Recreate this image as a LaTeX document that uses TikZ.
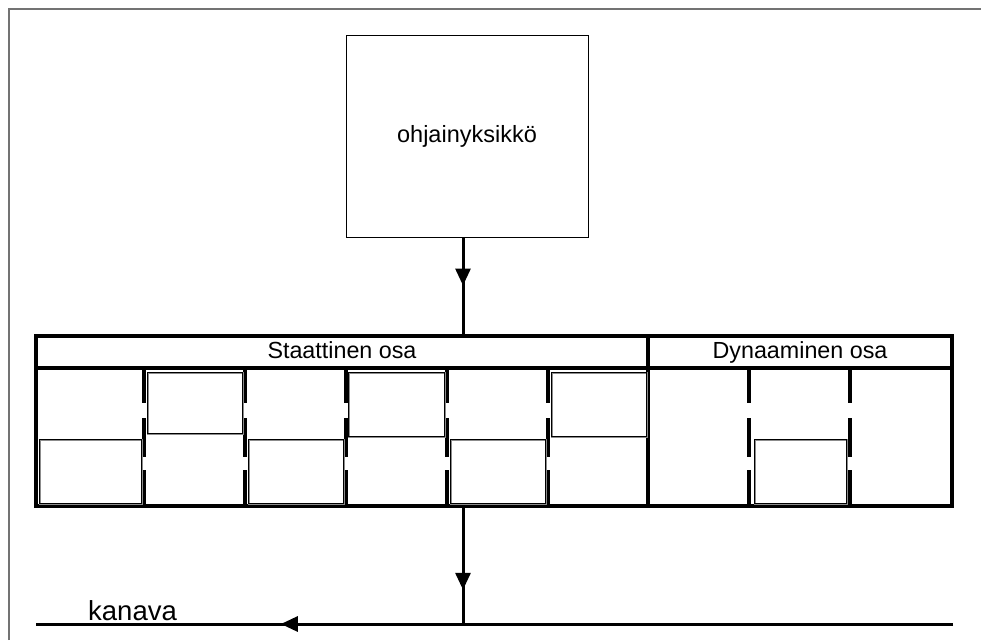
\documentclass[tikz,border=0pt]{standalone}
\usepackage{fontspec}
\setmainfont{Liberation Sans}
\usetikzlibrary{arrows.meta,decorations.markings}
\begin{document}
\begin{tikzpicture}[x=1pt,y=-1pt,
  framel/.style={draw=black!55, line width=1.6pt},
  ctrlbox/.style={draw, line width=1pt, minimum width=242pt, minimum height=202pt, anchor=north west, inner sep=0pt, outer sep=0pt, font=\fontsize{23.5}{28}\selectfont},
  busbox/.style={draw, line width=3.3pt, anchor=north west, inner sep=0pt, outer sep=0pt},
  headtext/.style={font=\fontsize{23.3}{27}\selectfont, text height=17pt, text depth=5pt},
  divline/.style={line width=3.3pt},
  slotbox/.style={draw=black, line width=0.9pt},
  slotshadow/.style={draw=black!45, line width=1.3pt},
  conn/.style={line width=3pt},
  midarrow/.style={postaction={decorate, decoration={markings, mark=at position #1 with {\arrow{Triangle[length=17pt,width=15pt]}}}}}
]
\useasboundingbox (0,0) rectangle (981,640);
% outer frame (top and left edges only)
\draw[framel] (9,640) -- (9,9) -- (981,9);

% control unit
\node[ctrlbox] (ctrl) at (346,35) {ohjainyksikkö};

% bus
\node[busbox, minimum width=916pt, minimum height=170pt] (bus) at (36,336) {};
\node[busbox, minimum width=612pt, minimum height=32pt, headtext] (stat) at (36,336) {Staattinen osa};
\node[busbox, minimum width=304pt, minimum height=32pt, headtext] (dyn) at (648,336) {Dynaaminen osa};
\draw[divline] (stat.south east) -- (stat.south east |- bus.south);

% broken slot dividers
\foreach \x in {144,245,346,447,548,749,850}{
  \draw[divline] (\x,368) -- (\x,403);
  \draw[divline] (\x,418) -- (\x,457);
  \draw[divline] (\x,470) -- (\x,506);
}

% slot frames
\foreach \a/\b/\c/\d in {39/439/141/503, 147/372/242/433, 248/439/343/503, 348/372/444/436, 450/439/545/503, 551/372/646/436, 754/439/846/503}{
  \draw[slotshadow] (\a+1,\b+1) rectangle (\c+1,\d+1);
  \draw[slotbox] (\a,\b) rectangle (\c,\d);
}

% channel
\coordinate (busx) at (463,0);
\coordinate (kR) at (953,624);
\coordinate (kL) at (36,624);
\node[anchor=base west, inner sep=0pt, font=\fontsize{27.5}{32}\selectfont] (kan) at (88,620) {kanava};

% connectors
\draw[conn, midarrow=0.49] (ctrl.south -| busx) -- (bus.north -| busx);
\draw[conn, midarrow=0.71] (bus.south -| busx) -- (kR -| busx);
\draw[conn, midarrow=0.733] (kR) -- (kL);
\end{tikzpicture}
\end{document}
